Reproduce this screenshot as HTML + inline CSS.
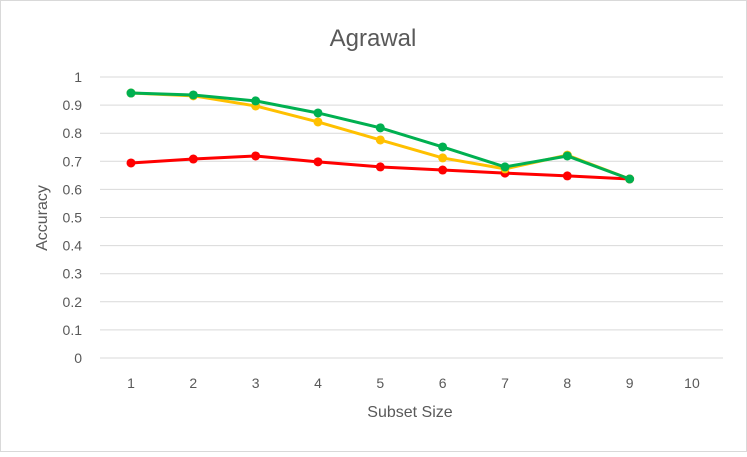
<!DOCTYPE html>
<html><head><meta charset="utf-8"><style>
body{margin:0;background:#fff;font-family:"Liberation Sans",sans-serif}
svg text{font-family:"Liberation Sans",sans-serif;fill:#595959}
</style></head><body>
<svg width="747" height="452">
<rect x="0.5" y="0.5" width="746" height="451" fill="#fff" stroke="#d9d9d9"/>
<text x="373" y="46" font-size="24" text-anchor="middle">Agrawal</text>
<g id="grid"></g><g id="series"></g>
<text x="410" y="417" font-size="16" text-anchor="middle">Subset Size</text>
<text transform="translate(47,218) rotate(-90)" font-size="16" text-anchor="middle">Accuracy</text>
</svg>
<script>
const categories=[1,2,3,4,5,6,7,8,9,10];
const yTicks=[0,0.1,0.2,0.3,0.4,0.5,0.6,0.7,0.8,0.9,1];
const yellowVals=[0.943,0.933,0.897,0.840,0.776,0.712,0.673,0.722,0.637];
const greenVals=[0.943,0.936,0.915,0.872,0.819,0.751,0.680,0.719,0.637];
const redVals=[0.694,0.708,0.719,0.698,0.680,0.669,0.658,0.648,0.637];
const NS='http://www.w3.org/2000/svg';
const xS=c=>131+(c-1)*62.33;
const yS=v=>358-v*281;
const grid=document.getElementById('grid'),ser=document.getElementById('series');
function mk(tag,attrs,parent){const e=document.createElementNS(NS,tag);for(const k in attrs)e.setAttribute(k,attrs[k]);parent.appendChild(e);return e;}
yTicks.forEach(t=>{
 const l=mk('line',{x1:100,x2:723,y1:yS(t),y2:yS(t),stroke:'#d9d9d9','stroke-width':1},grid);
 
 
 const tx=mk('text',{x:82,y:yS(t)+5,'font-size':14,'text-anchor':'end'},grid);tx.textContent=t;
 
 
});
categories.forEach(c=>{
 const tx=mk('text',{x:xS(c),y:388,'font-size':14,'text-anchor':'middle'},grid);tx.textContent=c;
 
 
});
[[redVals,'#ff0000','red'],[yellowVals,'#ffc000','yellow'],[greenVals,'#00b050','green']].forEach(([vals,col,nm])=>{
 const pts=vals.map((v,i)=>xS(categories[i])+','+yS(v)).join(' ');
 const pl=mk('polyline',{points:pts,fill:'none',stroke:col,'stroke-width':3,'stroke-linejoin':'round'},ser);
 
 
 vals.forEach((v,i)=>{
  const c=mk('circle',{cx:xS(categories[i]),cy:yS(v),r:4.5,fill:col},ser);
  
  
 });
});
</script>
</body></html>
